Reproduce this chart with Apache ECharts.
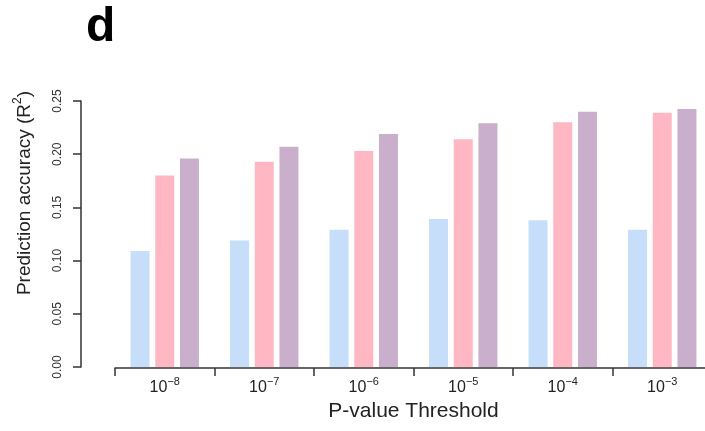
<!DOCTYPE html>
<html>
<head>
<meta charset="utf-8">
<script src="https://cdn.jsdelivr.net/npm/echarts@6/dist/echarts.min.js"></script>
<style>
  html, body { margin: 0; padding: 0; background: #fff; }
  #chart { width: 705px; height: 431px; }
</style>
</head>
<body>
<div id="chart"></div>
<script>
// P-value thresholds (exponents of 10) used as categories
const thresholdExponents = ['−8', '−7', '−6', '−5', '−4', '−3'];

// Prediction accuracy (R²) for each method at each threshold
const seriesBlue   = [0.109, 0.119, 0.129, 0.139, 0.138, 0.129];
const seriesPink   = [0.180, 0.193, 0.203, 0.214, 0.230, 0.239];
const seriesPurple = [0.196, 0.207, 0.219, 0.229, 0.240, 0.2425];

const yTicks = [0, 0.05, 0.10, 0.15, 0.20, 0.25];

const barColors = ['#C6DEFA', '#FFB7C4', '#C9AFCB'];
const font = 'Liberation Sans, Arial, Helvetica, sans-serif';
const axisColor = '#333333';

const chart = echarts.init(document.getElementById('chart'), null, { renderer: 'canvas' });

function barSeries(values, color) {
  return {
    type: 'bar',
    data: values,
    barWidth: 19,
    barGap: '30%',
    itemStyle: { color: color },
    silent: true
  };
}

chart.setOption({
  backgroundColor: '#ffffff',
  animation: false,
  textStyle: { fontFamily: font },
  grid: {
    left: 115, top: 101, width: 597, height: 266,
    outerBoundsMode: 'none'
  },
  xAxis: {
    type: 'category',
    data: thresholdExponents,
    offset: 1,
    axisLine: { show: true, onZero: false, lineStyle: { color: axisColor, width: 1.5 } },
    axisTick: { show: true, length: 8, interval: 0, lineStyle: { color: axisColor, width: 1.5 } },
    splitLine: { show: false },
    axisLabel: {
      margin: 8,
      interval: 0,
      formatter: v => '{b|10}{s|' + v + '}',
      rich: {
        b: { fontSize: 16, lineHeight: 20, color: '#222', fontFamily: font, verticalAlign: 'bottom' },
        s: { fontSize: 11, lineHeight: 11, color: '#222', fontFamily: font, verticalAlign: 'top' }
      }
    },
    name: 'P-value Threshold',
    nameLocation: 'middle',
    nameGap: 27,
    nameTextStyle: { fontSize: 21, color: '#222', fontFamily: font }
  },
  yAxis: {
    type: 'value',
    min: 0,
    max: 0.25,
    interval: 0.05,
    offset: 34,
    splitLine: { show: false },
    axisLine: { show: true, lineStyle: { color: axisColor, width: 1.5 } },
    axisTick: { show: true, length: 8, lineStyle: { color: axisColor, width: 1.5 } },
    axisLabel: {
      rotate: 90,
      margin: 17,
      fontSize: 12,
      color: '#333',
      fontFamily: font,
      formatter: v => {
        const t = yTicks.find(x => Math.abs(x - v) < 1e-9);
        return t === undefined ? '' : t.toFixed(2);
      }
    }
  },
  series: [
    barSeries(seriesBlue, barColors[0]),
    barSeries(seriesPink, barColors[1]),
    barSeries(seriesPurple, barColors[2])
  ],
  graphic: [
    {
      type: 'text',
      x: 86,
      y: 28,
      style: {
        text: 'd',
        font: 'bold 48px ' + font,
        fill: '#000',
        verticalAlign: 'middle'
      }
    },
    {
      type: 'text',
      x: 23,
      y: 193,
      rotation: Math.PI / 2,
      style: {
        text: '{a|Prediction accuracy (R}{s|2}{a|)}',
        align: 'center',
        verticalAlign: 'middle',
        rich: {
          a: { fontSize: 19, lineHeight: 22, fill: '#222', fontFamily: font, verticalAlign: 'bottom' },
          s: { fontSize: 12, lineHeight: 12, fill: '#222', fontFamily: font, verticalAlign: 'top' }
        }
      }
    }
  ]
});
</script>
</body>
</html>
